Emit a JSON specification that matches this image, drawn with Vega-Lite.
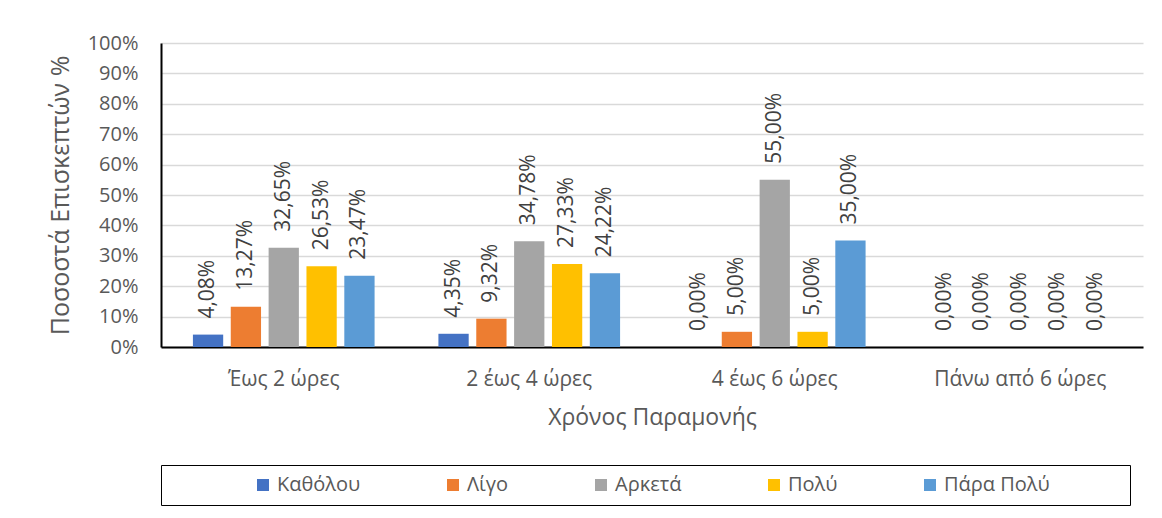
{
  "$schema": "https://vega.github.io/schema/vega-lite/v6.json",
  "width": 982,
  "height": 304,
  "autosize": {"type": "none"},
  "padding": {"left": 161, "top": 43, "right": 19, "bottom": 171},
  "config": {
    "locale": {"number": {"decimal": ",", "thousands": ".", "grouping": [3], "currency": ["", " €"]}},
    "view": {"stroke": null},
    "font": "Open Sans"
  },
  "data": {
    "values": [
      {"cat": "Έως 2 ώρες", "series": "Καθόλου", "value": 0.0408},
      {"cat": "Έως 2 ώρες", "series": "Λίγο", "value": 0.1327},
      {"cat": "Έως 2 ώρες", "series": "Αρκετά", "value": 0.3265},
      {"cat": "Έως 2 ώρες", "series": "Πολύ", "value": 0.2653},
      {"cat": "Έως 2 ώρες", "series": "Πάρα Πολύ", "value": 0.2347},
      {"cat": "2 έως 4 ώρες", "series": "Καθόλου", "value": 0.0435},
      {"cat": "2 έως 4 ώρες", "series": "Λίγο", "value": 0.0932},
      {"cat": "2 έως 4 ώρες", "series": "Αρκετά", "value": 0.3478},
      {"cat": "2 έως 4 ώρες", "series": "Πολύ", "value": 0.2733},
      {"cat": "2 έως 4 ώρες", "series": "Πάρα Πολύ", "value": 0.2422},
      {"cat": "4 έως 6 ώρες", "series": "Καθόλου", "value": 0},
      {"cat": "4 έως 6 ώρες", "series": "Λίγο", "value": 0.05},
      {"cat": "4 έως 6 ώρες", "series": "Αρκετά", "value": 0.55},
      {"cat": "4 έως 6 ώρες", "series": "Πολύ", "value": 0.05},
      {"cat": "4 έως 6 ώρες", "series": "Πάρα Πολύ", "value": 0.35},
      {"cat": "Πάνω από 6 ώρες", "series": "Καθόλου", "value": 0},
      {"cat": "Πάνω από 6 ώρες", "series": "Λίγο", "value": 0},
      {"cat": "Πάνω από 6 ώρες", "series": "Αρκετά", "value": 0},
      {"cat": "Πάνω από 6 ώρες", "series": "Πολύ", "value": 0},
      {"cat": "Πάνω από 6 ώρες", "series": "Πάρα Πολύ", "value": 0}
    ]
  },
  "encoding": {
    "x": {
      "field": "cat", "type": "nominal",
      "sort": ["Έως 2 ώρες", "2 έως 4 ώρες", "4 έως 6 ώρες", "Πάνω από 6 ώρες"],
      "scale": {"paddingInner": 0.26, "paddingOuter": 0.13},
      "axis": {
        "title": "Χρόνος Παραμονής",
        "labelAngle": 0,
        "labelFontSize": 21,
        "labelColor": "#595959",
        "labelPadding": 21,
        "ticks": false,
        "domainColor": "#000000",
        "domainWidth": 2,
        "grid": false,
        "titleFontSize": 23,
        "titleFontWeight": "normal",
        "titleColor": "#595959",
        "titleY": 70,
        "titleBaseline": "middle"
      }
    },
    "xOffset": {
      "field": "series", "type": "nominal",
      "sort": ["Καθόλου", "Λίγο", "Αρκετά", "Πολύ", "Πάρα Πολύ"],
      "scale": {"paddingInner": 0.2, "paddingOuter": 0}
    },
    "y": {
      "field": "value", "type": "quantitative",
      "scale": {"domain": [0, 1]},
      "axis": {
        "title": "Ποσοστά Επισκεπτών %",
        "format": ".0%",
        "tickCount": 10,
        "ticks": false,
        "labelFontSize": 20,
        "labelColor": "#595959",
        "labelPadding": 23,
        "domainColor": "#000000",
        "domainWidth": 2,
        "gridColor": "#d9d9d9",
        "gridWidth": 1.5,
        "titleFontSize": 25,
        "titleFontWeight": "normal",
        "titleColor": "#595959",
        "titleAngle": -90,
        "titleX": -101,
        "titleY": 152,
        "titleAlign": "center",
        "titleBaseline": "middle"
      }
    }
  },
  "layer": [
    {
      "mark": {"type": "bar"},
      "encoding": {
        "color": {
          "field": "series", "type": "nominal",
          "sort": ["Καθόλου", "Λίγο", "Αρκετά", "Πολύ", "Πάρα Πολύ"],
          "scale": {
            "domain": ["Καθόλου", "Λίγο", "Αρκετά", "Πολύ", "Πάρα Πολύ"],
            "range": ["#4472C4", "#ED7D31", "#A5A5A5", "#FFC000", "#5B9BD5"]
          },
          "legend": {
            "orient": "bottom",
            "direction": "horizontal",
            "title": " ",
            "titleOrient": "right",
            "titlePadding": 70,
            "symbolType": "square",
            "symbolSize": 144,
            "symbolStrokeWidth": 0,
            "symbolOffset": 82,
            "labelFontSize": 20,
            "labelColor": "#595959",
            "labelOffset": 4,
            "columnPadding": 0,
            "strokeColor": "#000000",
            "padding": 10,
            "offset": 36
          }
        }
      }
    },
    {
      "mark": {"type": "text", "angle": 270, "align": "left", "baseline": "middle", "dx": 16, "fontSize": 21, "color": "#404040"},
      "encoding": {
        "text": {"field": "value", "type": "quantitative", "format": ".2%"}
      }
    }
  ]
}
